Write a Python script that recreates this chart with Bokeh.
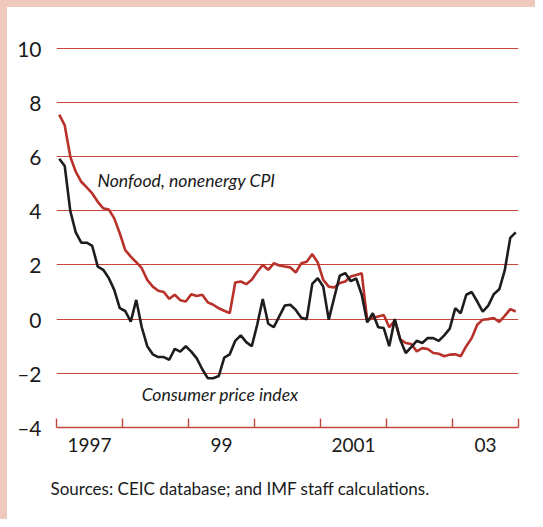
import numpy as np
import pandas as pd
from bokeh.plotting import figure
from bokeh.models import FixedTicker, Label, Title, Range1d
from bokeh.embed import file_html
from bokeh.resources import INLINE

# ---- data (monthly, Jan 1997 - Dec 2003), year-on-year % change ----
months = pd.date_range("1997-01-01", periods=84, freq="MS")

cpi = [5.92, 5.65, 4.0, 3.2, 2.82, 2.82, 2.7, 1.94, 1.82, 1.52, 1.08, 0.41,
       0.3, -0.09, 0.71, -0.3, -1.0, -1.3, -1.4, -1.4, -1.5, -1.1, -1.2, -1.0,
       -1.2, -1.45, -1.85, -2.18, -2.18, -2.1, -1.42, -1.3, -0.8, -0.6, -0.85, -1.0,
       -0.2, 0.74, -0.17, -0.3, 0.1, 0.5, 0.53, 0.34, 0.05, 0.0, 1.3, 1.51,
       1.2, -0.02, 0.8, 1.6, 1.7, 1.4, 1.5, 0.9, -0.12, 0.22, -0.3, -0.33,
       -1.0, 0.0, -0.76, -1.25, -1.03, -0.8, -0.88, -0.7, -0.7, -0.8, -0.6, -0.35,
       0.4, 0.22, 0.9, 1.0, 0.65, 0.28, 0.5, 0.92, 1.1, 1.8, 3.0, 3.2]

core = [7.55, 7.15, 6.0, 5.44, 5.07, 4.86, 4.64, 4.33, 4.09, 4.05, 3.72, 3.17,
        2.55, 2.31, 2.1, 1.88, 1.45, 1.2, 1.05, 1.0, 0.75, 0.9, 0.7, 0.65,
        0.92, 0.85, 0.9, 0.62, 0.53, 0.4, 0.31, 0.22, 1.35, 1.39, 1.29, 1.45,
        1.75, 2.0, 1.82, 2.06, 1.98, 1.94, 1.91, 1.72, 2.06, 2.12, 2.4, 2.09,
        1.45, 1.2, 1.17, 1.33, 1.39, 1.57, 1.63, 1.69, -0.05, 0.05, 0.1, 0.15,
        -0.3, -0.05, -0.75, -0.88, -0.92, -1.19, -1.07, -1.1, -1.25, -1.28, -1.37, -1.31,
        -1.3, -1.37, -1.0, -0.7, -0.21, -0.02, 0.0, 0.04, -0.1, 0.12, 0.37, 0.28]

year_bounds = [1997, 1998, 1999, 2000, 2001, 2002, 2003, 2004]
year_label_pos = [1997.5, 1999.5, 2001.5, 2003.5]
year_labels = ["1997", "99", "2001", "03"]
y_ticks = [10, 8, 6, 4, 2, 0, -2, -4]
y_labels = ["10", "8", "6", "4", "2", "0", "\u20132", "\u20134"]

series_core_label = "Nonfood, nonenergy CPI"
series_cpi_label = "Consumer price index"
source_note = "Sources: CEIC database; and IMF staff calculations."

x = [m.year + (m.month - 0.5) / 12.0 for m in months]

# ---- styling ----
RED_GRID = "#c4463c"
RED_LINE = "#b8312a"
BLACK = "#1e1c1c"
PINK = "#f0c9bd"
FONT = "Lato"

p = figure(width=535, height=519, output_backend="svg", toolbar_location=None,
           x_range=Range1d(1997, 2004), y_range=Range1d(-4, 10.1),
           min_border_left=56, min_border_right=17, min_border_top=45,
           min_border_bottom=91)
p.outline_line_color = None
p.background_fill_color = "white"
p.border_fill_color = None
p.styles = {
    "background-image": ("linear-gradient(to right, %s 7px, rgba(255,255,255,0) 7px), "
                         "linear-gradient(to bottom, %s 7px, #ffffff 7px)") % (PINK, PINK)
}

p.line(x, core, line_color=RED_LINE, line_width=2.6)
p.line(x, cpi, line_color=BLACK, line_width=2.6)

# grid
p.xgrid.grid_line_color = None
p.ygrid.ticker = FixedTicker(ticks=y_ticks)
p.ygrid.grid_line_color = RED_GRID
p.ygrid.grid_line_width = 1.2

# y axis
p.yaxis.ticker = FixedTicker(ticks=y_ticks)
p.yaxis.major_label_overrides = dict(zip(y_ticks, y_labels))
p.yaxis.axis_line_color = None
p.yaxis.major_tick_line_color = None
p.yaxis.minor_tick_line_color = None
p.yaxis.major_label_standoff = 9
p.yaxis.major_label_text_font = FONT
p.yaxis.major_label_text_font_size = "21px"
p.yaxis.major_label_text_color = "#1a1a1a"

# x axis
p.xaxis.ticker = FixedTicker(ticks=year_label_pos, minor_ticks=year_bounds)
p.xaxis.major_label_overrides = dict(zip(year_label_pos, year_labels))
p.xaxis.axis_line_color = RED_GRID
p.xaxis.axis_line_width = 1.4
p.xaxis.major_tick_line_color = None
p.xaxis.minor_tick_line_color = RED_GRID
p.xaxis.minor_tick_line_width = 1.4
p.xaxis.minor_tick_in = 9
p.xaxis.minor_tick_out = 0
p.xaxis.major_label_standoff = 4
p.xaxis.major_label_text_font = FONT
p.xaxis.major_label_text_font_size = "19px"
p.xaxis.major_label_text_color = "#1a1a1a"

# series labels
p.add_layout(Label(x=1997.62, y=5.1, text=series_core_label, text_font=FONT,
                   text_font_style="italic", text_font_size="17.6px",
                   text_color="#1a1a1a", text_baseline="middle"))
p.add_layout(Label(x=1998.29, y=-2.79, text=series_cpi_label, text_font=FONT,
                   text_font_style="italic", text_font_size="17.6px",
                   text_color="#1a1a1a", text_baseline="middle"))

# source note (below the axis)
p.add_layout(Title(text=source_note, align="left", offset=-6, standoff=42,
                   text_font=FONT, text_font_style="normal",
                   text_font_size="17px", text_color="#1a1a1a"), "below")

open("out.html", "w").write(file_html(p, INLINE))
